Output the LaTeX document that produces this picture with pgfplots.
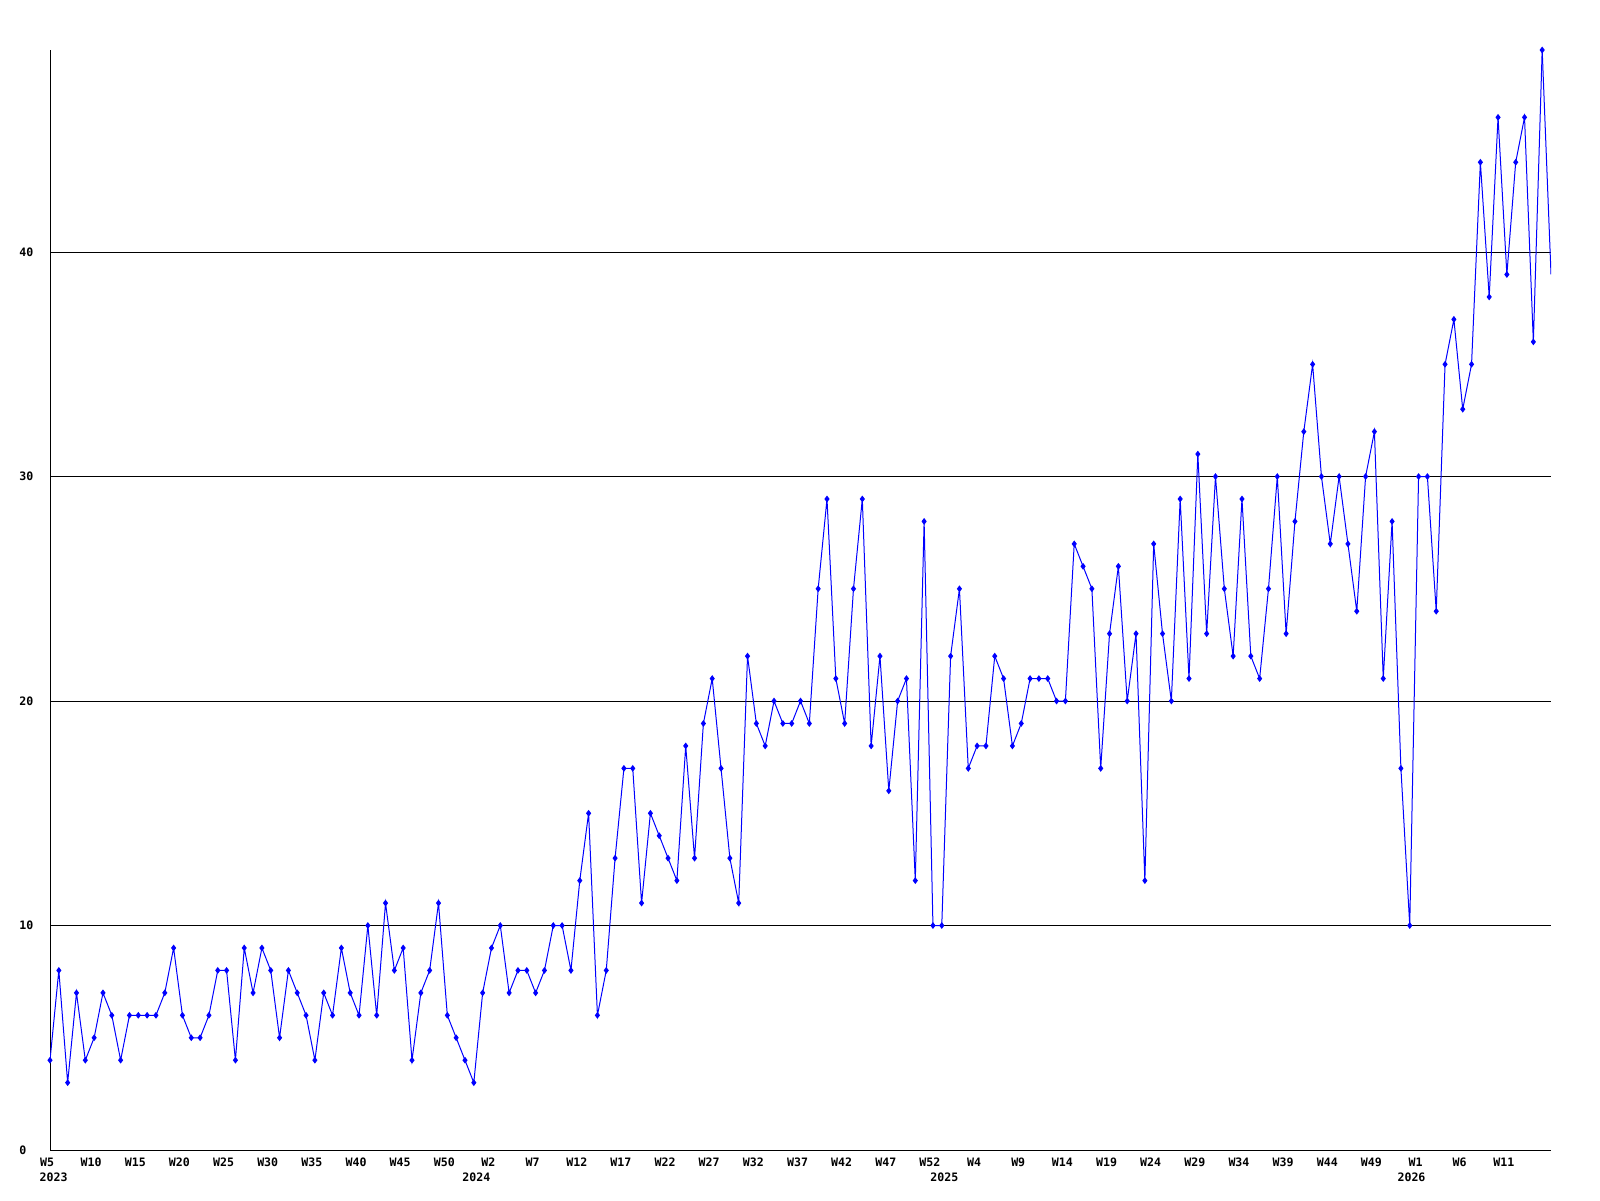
\documentclass[border=0pt]{standalone}
\usepackage{fontspec}
\usepackage{pgfplots}
\pgfplotsset{compat=1.18}
\newfontfamily\lblfont{DejaVu Sans Mono}
\definecolor{lineblue}{RGB}{0,0,255}
\newcommand{\lblsize}{\lblfont\bfseries\fontsize{5.8pt}{6pt}\selectfont}
\begin{document}
\begin{tikzpicture}
\path[use as bounding box] (0,0) rectangle (800pt,600pt);
\begin{axis}[
  at={(25pt,25pt)}, anchor=south west,
  scale only axis, width=750.5pt, height=550pt,
  xmin=0, xmax=170, ymin=0, ymax=49,
  clip mode=individual,
  axis x line*=bottom, axis y line*=left,
  axis line style={-, black, line width=0.5pt},
  major tick length=0pt,
  /pgf/number format/assume math mode=true,
  ytick={0,10,20,30,40},
  yticklabels={0,10,20,30,40},
  ymajorgrids,
  grid style={black, line width=0.5pt},
  xtick={0,5,...,165},
  xticklabels={W5,W10,W15,W20,W25,W30,W35,W40,W45,W50,W2,W7,W12,W17,W22,W27,W32,W37,W42,W47,W52,W4,W9,W14,W19,W24,W29,W34,W39,W44,W49,W1,W6,W11},
  yticklabel style={anchor=west, inner sep=0pt, xshift=-15.5pt, font=\lblsize},
  xticklabel style={anchor=base, inner sep=0pt, yshift=-8pt, xshift=-1.5pt, font=\lblsize},
]
\addplot[color=lineblue, line width=0.5pt, mark=diamond*, mark size=1.3pt,
  mark options={fill=lineblue, draw=lineblue}, clip marker paths=false] coordinates {
(0,4)(1,8)(2,3)(3,7)(4,4)(5,5)(6,7)(7,6)(8,4)(9,6)
(10,6)(11,6)(12,6)(13,7)(14,9)(15,6)(16,5)(17,5)(18,6)(19,8)
(20,8)(21,4)(22,9)(23,7)(24,9)(25,8)(26,5)(27,8)(28,7)(29,6)
(30,4)(31,7)(32,6)(33,9)(34,7)(35,6)(36,10)(37,6)(38,11)(39,8)
(40,9)(41,4)(42,7)(43,8)(44,11)(45,6)(46,5)(47,4)(48,3)(49,7)
(50,9)(51,10)(52,7)(53,8)(54,8)(55,7)(56,8)(57,10)(58,10)(59,8)
(60,12)(61,15)(62,6)(63,8)(64,13)(65,17)(66,17)(67,11)(68,15)(69,14)
(70,13)(71,12)(72,18)(73,13)(74,19)(75,21)(76,17)(77,13)(78,11)(79,22)
(80,19)(81,18)(82,20)(83,19)(84,19)(85,20)(86,19)(87,25)(88,29)(89,21)
(90,19)(91,25)(92,29)(93,18)(94,22)(95,16)(96,20)(97,21)(98,12)(99,28)
(100,10)(101,10)(102,22)(103,25)(104,17)(105,18)(106,18)(107,22)(108,21)(109,18)
(110,19)(111,21)(112,21)(113,21)(114,20)(115,20)(116,27)(117,26)(118,25)(119,17)
(120,23)(121,26)(122,20)(123,23)(124,12)(125,27)(126,23)(127,20)(128,29)(129,21)
(130,31)(131,23)(132,30)(133,25)(134,22)(135,29)(136,22)(137,21)(138,25)(139,30)
(140,23)(141,28)(142,32)(143,35)(144,30)(145,27)(146,30)(147,27)(148,24)(149,30)
(150,32)(151,21)(152,28)(153,17)(154,10)(155,30)(156,30)(157,24)(158,35)(159,37)
(160,33)(161,35)(162,44)(163,38)(164,46)(165,39)(166,44)(167,46)(168,36)(169,49)
};
\addplot[color=lineblue, line width=0.5pt, no marks] coordinates {(169,49)(170,39)};
\node[anchor=base, inner sep=0pt, font=\lblsize, yshift=-15.5pt] at (axis cs:0.4,0) {2023};
\node[anchor=base, inner sep=0pt, font=\lblsize, yshift=-15.5pt] at (axis cs:48.3,0) {2024};
\node[anchor=base, inner sep=0pt, font=\lblsize, yshift=-15.5pt] at (axis cs:101.3,0) {2025};
\node[anchor=base, inner sep=0pt, font=\lblsize, yshift=-15.5pt] at (axis cs:154.2,0) {2026};
\end{axis}
\end{tikzpicture}
\end{document}
